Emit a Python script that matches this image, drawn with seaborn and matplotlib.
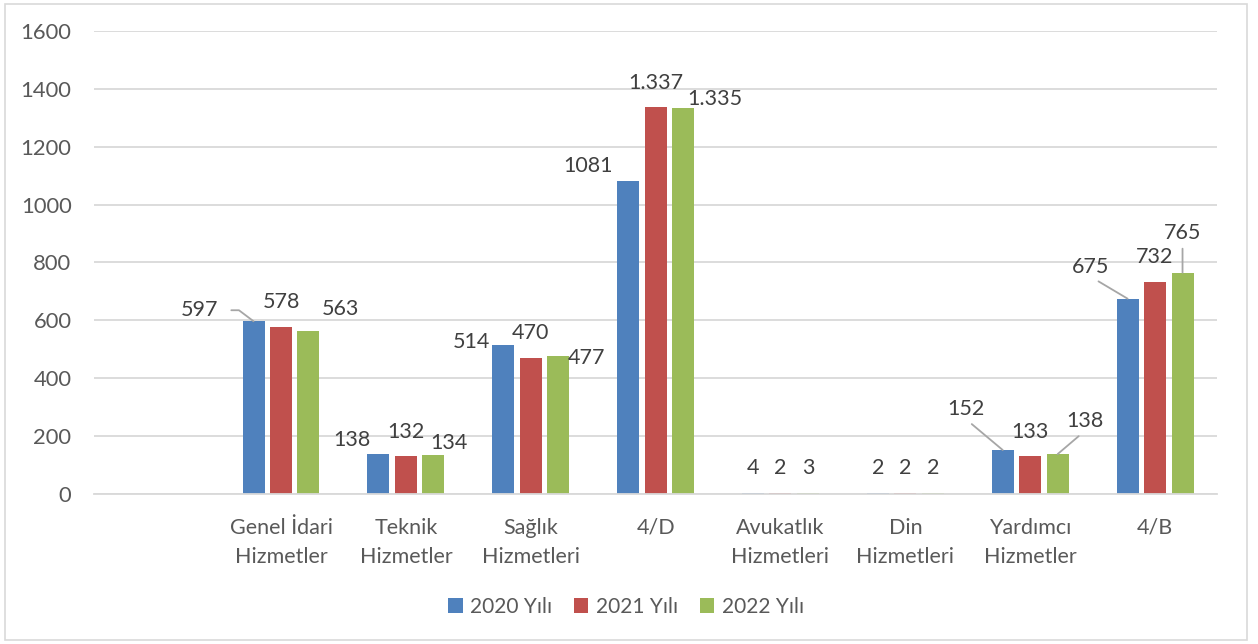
import matplotlib
matplotlib.use("Agg")
import matplotlib.pyplot as plt
from matplotlib.patches import Rectangle
import seaborn as sns
import pandas as pd

# chart data
categories = ["", "Genel İdari\nHizmetler", "Teknik\nHizmetler", "Sağlık\nHizmetleri", "4/D",
              "Avukatlık\nHizmetleri", "Din\nHizmetleri", "Yardımcı\nHizmetler", "4/B"]
years = ["2020 Yılı", "2021 Yılı", "2022 Yılı"]
v2020 = [597, 138, 514, 1081, 4, 2, 152, 675]
v2021 = [578, 132, 470, 1337, 2, 2, 133, 732]
v2022 = [563, 134, 477, 1335, 3, 2, 138, 765]
# labels as printed on the chart (turkish thousands dot on some of them)
lab2020 = ["597", "138", "514", "1081", "4", "2", "152", "675"]
lab2021 = ["578", "132", "470", "1.337", "2", "2", "133", "732"]
lab2022 = ["563", "134", "477", "1.335", "3", "2", "138", "765"]
yticks = [0, 200, 400, 600, 800, 1000, 1200, 1400, 1600]

colors = ["#4f81bd", "#c0504d", "#9bbb59"]

# label offsets in pixels from the bar top (manual positions in the original)
offsets = [
    [(-54, 11), (-26, 14), (-32, 3), (-40, 15), (0, 25), (0, 25), (-37, 41), (-37, 32)],
    [(0, 25), (0, 24), (0, 25), (0, 24), (0, 25), (0, 25), (0, 24), (0, 25)],
    [(32, 22), (16, 12), (28, -2), (32, 9), (0, 25), (0, 25), (27, 33), (0, 40)],
]
# labels that have a leader line
leaders = {(0, 0): "angle", (0, 6): "line", (2, 6): "line", (0, 7): "line", (2, 7): "line"}

rows = []
for y, vals in zip(years, [v2020, v2021, v2022]):
    for c, v in zip(categories[1:], vals):
        rows.append({"kategori": c, "yil": y, "deger": v})
df = pd.DataFrame(rows)

sns.set_theme(style="white")
plt.rcParams["font.family"] = ["Lato", "DejaVu Sans"]

fig = plt.figure(figsize=(12.58, 6.44), dpi=100)
ax = fig.add_axes([0.0745, 0.2329, 0.8933, 0.719])

sns.barplot(data=df, x="kategori", y="deger", hue="yil", order=categories, hue_order=years,
            palette=colors, width=0.66, gap=0.2, linewidth=0, saturation=1, ax=ax)

ax.set_xlim(-0.5, len(categories) - 0.5)
ax.set_ylim(0, 1600)
ax.set_yticks(yticks)
ax.set_yticklabels([str(t) for t in yticks])
ax.set_xlabel("")
ax.set_ylabel("")
ax.yaxis.grid(True, color="#d9d9d9", lw=1.3)
ax.set_axisbelow(True)
for s in ["left", "right", "top"]:
    ax.spines[s].set_visible(False)
ax.spines["bottom"].set_color("#d9d9d9")
ax.spines["bottom"].set_linewidth(1.3)
ax.tick_params(axis="y", length=0, pad=16, labelsize=15.8, labelcolor="#595959")
ax.tick_params(axis="x", length=0, pad=17, labelsize=15.5, labelcolor="#595959")
for t in ax.get_xticklabels():
    t.set_linespacing(1.6)
    t.set_verticalalignment("top")

all_labels = [lab2020, lab2021, lab2022]
all_vals = [v2020, v2021, v2022]
for si, cont in enumerate(ax.containers[:3]):
    for p in cont.patches:
        xc = p.get_x() + p.get_width() / 2
        ci = int(round(xc)) - 1
        if ci < 0 or ci >= len(all_vals[si]):
            continue
        val = all_vals[si][ci]
        dx, dy = offsets[si][ci]
        kw = {}
        kind = leaders.get((si, ci))
        if kind == "line":
            kw["arrowprops"] = dict(arrowstyle="-", color="#a6a6a6", lw=1.3,
                                    relpos=(0.5, 0), shrinkA=2, shrinkB=0)
        elif kind == "angle":
            kw["arrowprops"] = dict(arrowstyle="-", color="#a6a6a6", lw=1.3,
                                    relpos=(1, 0.5), shrinkA=7, shrinkB=0,
                                    connectionstyle="angle,angleA=0,angleB=143,rad=0")
        ax.annotate(all_labels[si][ci], xy=(xc, val), xytext=(dx, dy),
                    textcoords="offset pixels", ha="center", va="center",
                    fontsize=15.5, color="#404040", **kw)

sns.move_legend(ax, "center", bbox_to_anchor=(0.4735, -0.244), ncol=3, frameon=False,
                title=None, fontsize=15, handlelength=0.7, handleheight=0.7,
                handletextpad=0.35, columnspacing=1.05)
for t in ax.get_legend().get_texts():
    t.set_color("#595959")

# light chart-area border
fig.patches.append(Rectangle((5 / 1258, 4 / 644), 1242 / 1258, 636 / 644,
                             transform=fig.transFigure, fill=False,
                             edgecolor="#d9d9d9", lw=1.2))

fig.savefig("out.png", dpi=100)
